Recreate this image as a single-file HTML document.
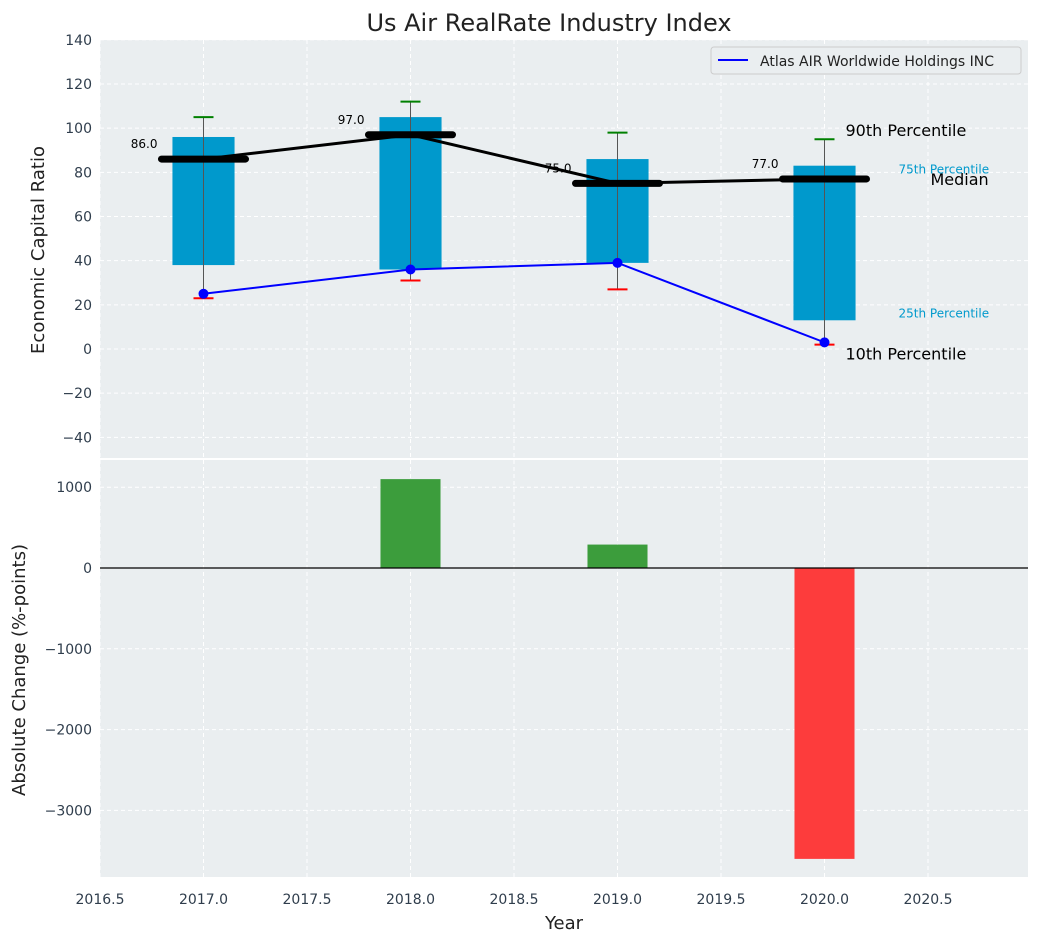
<!DOCTYPE html>
<html><head><meta charset="utf-8"><style>
body{margin:0;background:#fff;font-family:"Liberation Sans","DejaVu Sans",sans-serif;}
svg text{font-family:"DejaVu Sans","Liberation Sans",sans-serif;}
</style></head><body>
<svg id="c" width="1039" height="942" xmlns="http://www.w3.org/2000/svg"></svg>
<script>
const years=[2017,2018,2019,2020];
const p10=[23,31,27,2];
const p25=[38,36,39,13];
const medians=[86,97,75,77];
const p75=[96,105,86,83];
const p90=[105,112,98,95];
const company=[25,36,39,3];
const changes=[0,1100,290,-3600];
const yTicksTop=[-40,-20,0,20,40,60,80,100,120,140];
const yTicksBot=[-3000,-2000,-1000,0,1000];
const xTicks=[2016.5,2017,2017.5,2018,2018.5,2019,2019.5,2020,2020.5];

const NS="http://www.w3.org/2000/svg";
const svg=document.getElementById('c');
function el(t,a,p){const e=document.createElementNS(NS,t);for(const k in a)e.setAttribute(k,a[k]);(p||svg).appendChild(e);return e;}
const L=100,R=1028;
const X=v=>L+(v-2016.5)*207;
const T0=40,T1=458,B0=460,B1=877;
const YT=v=>349-v*2.2085;
const YB=v=>568-v*0.0808;

function panel(y0,y1,name){
 const g=el('g',{});
 el('rect',{x:L,y:y0,width:R-L,height:y1-y0,fill:'#eaeef0'},g);
 xTicks.forEach(t=>el('line',{x1:X(t),x2:X(t),y1:y0,y2:y1,stroke:'#fff','stroke-dasharray':'4,3','stroke-width':1},g));
 return g;
}
const gt=panel(T0,T1,'top-plot');
yTicksTop.forEach(t=>{const y=YT(t);
 el('line',{x1:L,x2:R,y1:y,y2:y,stroke:'#fff','stroke-dasharray':'4,3'},gt);
 const tx=el('text',{x:L-8,y:y+5,'text-anchor':'end','font-size':14,fill:'#2f3d4c'});tx.textContent=t<0?'\u2212'+(-t):t;
 });
const gb=panel(B0,B1,'bottom-plot');
yTicksBot.forEach(t=>{const y=YB(t);
 el('line',{x1:L,x2:R,y1:y,y2:y,stroke:'#fff','stroke-dasharray':'4,3'},gb);
 const tx=el('text',{x:L-8,y:y+5,'text-anchor':'end','font-size':14,fill:'#2f3d4c'});tx.textContent=t<0?'\u2212'+(-t):t;
 });
xTicks.forEach(t=>{const tx=el('text',{x:X(t),y:904,'text-anchor':'middle','font-size':14,fill:'#2f3d4c'});tx.textContent=t.toFixed(1);
 });

// boxes
years.forEach((yr,i)=>{const cx=X(yr),w=0.3*207;
 const b=el('rect',{x:cx-w/2,y:YT(p75[i]),width:w,height:YT(p25[i])-YT(p75[i]),fill:'#0099cc'});
 
 el('line',{x1:cx,x2:cx,y1:YT(p90[i]),y2:YT(p10[i]),stroke:'#555','stroke-width':1});
 const g1=el('line',{x1:cx-10,x2:cx+10,y1:YT(p90[i]),y2:YT(p90[i]),stroke:'green','stroke-width':2});
 
 const r1=el('line',{x1:cx-10,x2:cx+10,y1:YT(p10[i]),y2:YT(p10[i]),stroke:'red','stroke-width':2});
 
});
const mp=el('polyline',{points:years.map((y,i)=>X(y)+','+YT(medians[i])).join(' '),fill:'none',stroke:'#000','stroke-width':3});

years.forEach((yr,i)=>{const cx=X(yr),y=YT(medians[i]);
 const m=el('line',{x1:cx-42,x2:cx+42,y1:y,y2:y,stroke:'#000','stroke-width':7,'stroke-linecap':'round'});
 
 const t=el('text',{x:cx-46,y:y-11,'text-anchor':'end','font-size':12,fill:'#000'});t.textContent=medians[i].toFixed(1);
 });
const cp=el('polyline',{points:years.map((y,i)=>X(y)+','+YT(company[i])).join(' '),fill:'none',stroke:'blue','stroke-width':2});

years.forEach((yr,i)=>{const d=el('circle',{cx:X(yr),cy:YT(company[i]),r:5,fill:'blue'});
 });

// annotations
const last=years.length-1,lx=X(years[last]);
[['90th Percentile',lx+21,YT(p90[last])-3,16,'#000'],['75th Percentile',lx+74,YT(p75[last])+8,12,'#0099cc'],
 ['Median',lx+106,YT(medians[last])+6,16,'#000'],['25th Percentile',lx+74,YT(p25[last])-3,12,'#0099cc'],
 ['10th Percentile',lx+21,YT(p10[last])+15,16,'#000']].forEach(a=>{
 const t=el('text',{x:a[1],y:a[2],'font-size':a[3],fill:a[4]});t.textContent=a[0];
 });

// legend
const lg=el('g',{});
el('rect',{x:711,y:47,width:310,height:27,rx:3,fill:'#eaeef0',stroke:'#ccc'},lg);
el('line',{x1:718,x2:748,y1:60,y2:60,stroke:'blue','stroke-width':2},lg);
const lt=el('text',{x:760,y:66,'font-size':14,fill:'#222'},lg);lt.textContent='Atlas AIR Worldwide Holdings INC';

// bottom bars
years.forEach((yr,i)=>{if(!changes[i])return;const v=changes[i],w=0.29*207;
 const y=Math.min(YB(0),YB(v)),h=Math.abs(YB(v)-YB(0));
 const b=el('rect',{x:X(yr)-w/2,y:y,width:w,height:h,fill:v>0?'#3c9d3c':'#fd3c3c'});
 });
el('line',{x1:L,x2:R,y1:YB(0),y2:YB(0),stroke:'#000','stroke-width':1.2});
el('line',{x1:L,x2:R,y1:459,y2:459,stroke:'#fff','stroke-width':2});

const title=el('text',{x:549,y:31,'text-anchor':'middle','font-size':24,fill:'#222'});title.textContent='Us Air RealRate Industry Index';

const xl=el('text',{x:564,y:929,'text-anchor':'middle','font-size':18,fill:'#222'});xl.textContent='Year';

const y1=el('text',{x:0,y:0,transform:'translate(44,250) rotate(-90)','text-anchor':'middle','font-size':18,fill:'#222'});y1.textContent='Economic Capital Ratio';

const y2=el('text',{x:0,y:0,transform:'translate(25,670) rotate(-90)','text-anchor':'middle','font-size':18,fill:'#222'});y2.textContent='Absolute Change (%-points)';

</script>
</body></html>
